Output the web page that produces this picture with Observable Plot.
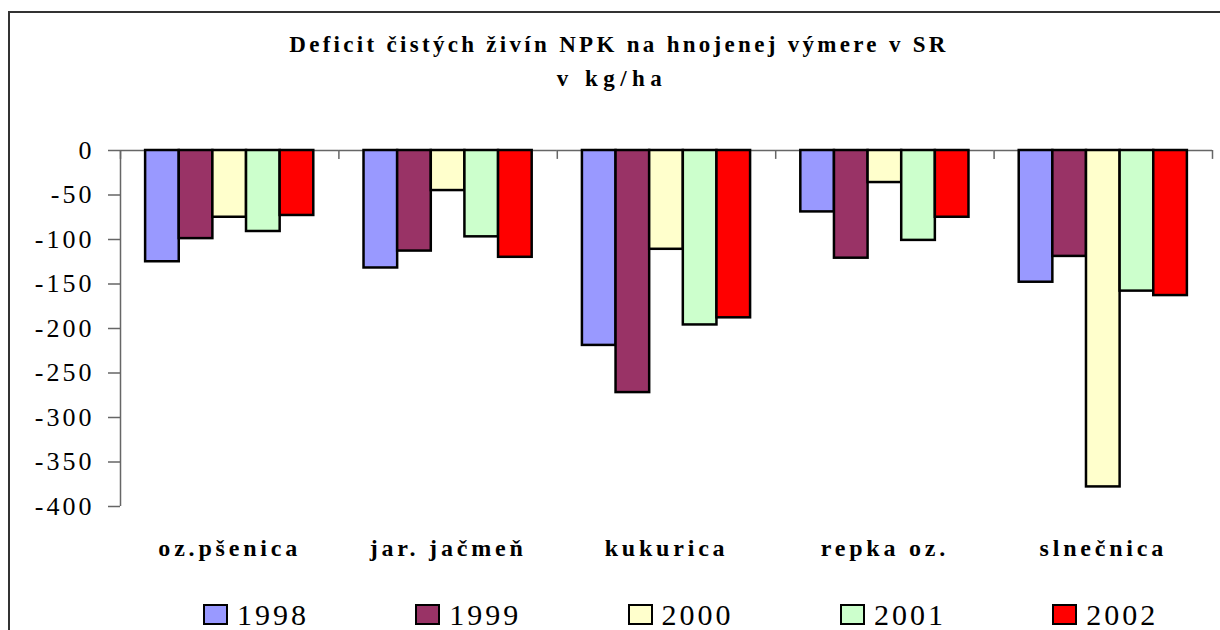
<!DOCTYPE html>
<html>
<head>
<meta charset="utf-8">
<script src="https://cdn.jsdelivr.net/npm/d3@7"></script>
<script src="https://cdn.jsdelivr.net/npm/@observablehq/plot@0.6"></script>
<style>
  body { margin: 0; background: #fff; width: 1220px; height: 630px; overflow: hidden; position: relative; }
  #frame { position: absolute; left: 8px; top: 11px; width: 1230px; height: 650px; border-left: 2px solid #333; border-top: 2px solid #333; box-sizing: border-box; }
  .title { position: absolute; font-family: "Liberation Serif", "Times New Roman", serif; font-weight: bold; font-size: 23px; line-height: 23px; white-space: nowrap; transform: translateX(-50%); color: #000; }
  #chart { position: absolute; left: 0; top: 120px; }
  #legend { position: absolute; left: 0; top: 0; }
  .item { position: absolute; top: 600px; display: flex; align-items: flex-start; white-space: nowrap; }
  .sw { width: 21px; height: 17px; border: 2.5px solid #000; margin-top: 4px; }
  .lt { font-family: "Liberation Serif", "Times New Roman", serif; font-size: 30px; line-height: 29px; letter-spacing: 3px; margin-left: 9px; color: #000; }
  g[aria-label="y-axis tick label"] text { letter-spacing: 3px; }
  g[aria-label="fx-axis tick label"] text { letter-spacing: 3.8px; }
</style>
</head>
<body>
<div id="frame"></div>
<div class="title" id="t1" style="left:619px; top:33px; letter-spacing:3.3px;">Deficit čistých živín NPK na hnojenej výmere v SR</div>
<div class="title" id="t2" style="left:612px; top:67px; letter-spacing:5.5px;">v kg/ha</div>
<div id="chart"></div>
<div id="legend"></div>
<script>
// ---- data ----
const crops = ["oz.pšenica", "jar. jačmeň", "kukurica", "repka oz.", "slnečnica"];
const years = ["1998", "1999", "2000", "2001", "2002"];
const v1998 = [-125, -132, -219, -69, -148];
const v1999 = [-99, -113, -272, -121, -119];
const v2000 = [-75, -45, -111, -36, -378];
const v2001 = [-91, -97, -196, -101, -158];
const v2002 = [-73, -120, -188, -75, -163];
const yTicks = [0, -50, -100, -150, -200, -250, -300, -350, -400];
const colors = ["#9999FF", "#993366", "#FFFFCC", "#CCFFCC", "#FF0000"];

const series = [v1998, v1999, v2000, v2001, v2002];
const data = [];
crops.forEach((c, i) => years.forEach((y, j) => data.push({crop: c, year: y, value: series[j][i]})));

// ---- layout ----
const W = 1220, H = 450, ML = 120, MR = 8, MT = 30, MB = 64;
const padIn = 0.23;
const step = (W - ML - MR) / crops.length;
const gap = step * padIn;
const barW = step * (1 - padIn) / years.length;
const edge = gap / 2 + barW / 2;
const axisColor = "#666";

const chart = Plot.plot({
  width: W, height: H,
  marginTop: MT, marginBottom: MB, marginLeft: ML, marginRight: MR,
  style: {fontFamily: "'Liberation Serif', 'Times New Roman', serif", background: "transparent", color: "#000", overflow: "visible"},
  fx: {domain: crops, paddingInner: padIn, paddingOuter: padIn / 2, round: false, label: null},
  x: {domain: years, padding: 0, round: false, axis: null},
  y: {domain: [-400, 0], label: null},
  color: {domain: years, range: colors},
  marks: [
    Plot.ruleY([0], {stroke: axisColor, strokeWidth: 1.5, insetLeft: -gap / 2, insetRight: -gap / 2}),
    Plot.ruleX([crops[0]], {fx: d => d, x: () => years[0], y1: 0, y2: -400, dx: -edge, stroke: axisColor, strokeWidth: 1.5}),
    Plot.ruleX(crops, {fx: d => d, x: () => years[0], y1: 0, y2: -10, dx: -edge, stroke: axisColor, strokeWidth: 1.5}),
    Plot.ruleX([crops[crops.length - 1]], {fx: d => d, x: () => years[years.length - 1], y1: 0, y2: -10, dx: edge, stroke: axisColor, strokeWidth: 1.5}),
    Plot.barY(data, {fx: "crop", x: "year", y: "value", fill: "year", stroke: "#000", strokeWidth: 2.5}),
    Plot.axisY({ticks: yTicks, tickFormat: d => String(d), tickSize: 12, tickPadding: 14, fontSize: 26, dx: -gap / 2, stroke: axisColor, strokeWidth: 1.5, label: null}),
    Plot.axisFx({anchor: "bottom", tickSize: 0, tickPadding: 32, fontSize: 24, fontWeight: "bold", label: null})
  ]
});
document.getElementById("chart").appendChild(chart);

// ---- legend ----
const legend = document.getElementById("legend");
years.forEach((y, j) => {
  const it = document.createElement("div");
  it.className = "item";
  it.style.left = (203 + j * 212.3) + "px";
  const sw = document.createElement("div");
  sw.className = "sw";
  sw.style.background = colors[j];
  const t = document.createElement("span");
  t.className = "lt";
  t.textContent = y;
  it.appendChild(sw);
  it.appendChild(t);
  legend.appendChild(it);
});
</script>
</body>
</html>
